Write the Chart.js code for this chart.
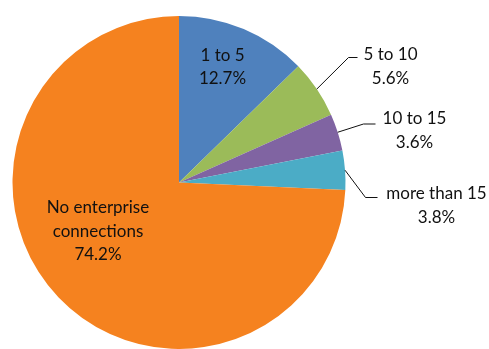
<!DOCTYPE html>
<html>
<head>
<meta charset="utf-8">
<script src="https://cdn.jsdelivr.net/npm/chart.js@4"></script>
<style>
  html, body { margin: 0; padding: 0; background: #fff; }
  #wrap { width: 489px; height: 349px; }
</style>
</head>
<body>
<div id="wrap"><canvas id="pie-chart" width="489" height="349"></canvas></div>
<script>
// Aandeel per aantal enterprise-verbindingen
const categories = ['1 to 5', '5 to 10', '10 to 15', 'more than 15', 'No enterprise connections'];
const labelLines = [['1 to 5'], ['5 to 10'], ['10 to 15'], ['more than 15'], ['No enterprise', 'connections']];
const shares = [12.7, 5.6, 3.6, 3.8, 74.2];
const sliceColors = ['#4F81BD', '#9BBB59', '#8064A2', '#4BACC6', '#F5821F'];

// Plaatsing van de labels, relatief t.o.v. het middelpunt van de taart
// inside: label in de punt; anders met een verbindingslijn naar de rand
const labelPlacement = [
    { inside: true, dx: 43.5, dy: -115.5 },
    { elbowDx: 169.5, elbowDy: -125, endDx: 178.5, textDx: 211.5, textDy: -127.5 },
    { elbowDx: 184.5, elbowDy: -58.5, endDx: 196.5, textDx: 235.5, textDy: -63.5 },
    { elbowDx: 186.5, elbowDy: 15, endDx: 198.5, textDx: 257.5, textDy: 11.5 },
    { inside: true, dx: -81, dy: 49 }
];

const FONT = '17px Lato, "Open Sans", sans-serif';
const LINE_HEIGHT = 23.5;

// Tekent de labels met percentage en eventueel een verbindingslijn
const pieLabels = {
    id: 'pieLabels',
    afterDatasetsDraw(chart) {
        const ctx = chart.ctx;
        const arcs = chart.getDatasetMeta(0).data;
        ctx.save();
        ctx.font = FONT;
        ctx.fillStyle = '#111';
        ctx.strokeStyle = '#111';
        ctx.lineWidth = 1;
        ctx.textAlign = 'center';
        ctx.textBaseline = 'middle';

        arcs.forEach((arc, i) => {
            const p = labelPlacement[i];
            const cx = arc.x, cy = arc.y;
            const lines = labelLines[i].concat([shares[i].toFixed(1) + '%']);

            if (p.inside) {
                const top = cy + p.dy - (lines.length - 1) * LINE_HEIGHT / 2;
                lines.forEach((t, k) => ctx.fillText(t, cx + p.dx, top + k * LINE_HEIGHT));
                return;
            }

            // Startpunt op de rand, midden van de punt
            const mid = (arc.startAngle + arc.endAngle) / 2;
            const sx = cx + Math.cos(mid) * arc.outerRadius;
            const sy = cy + Math.sin(mid) * arc.outerRadius;
            ctx.beginPath();
            ctx.moveTo(sx, sy);
            ctx.lineTo(cx + p.elbowDx, cy + p.elbowDy);
            ctx.lineTo(cx + p.endDx, cy + p.elbowDy);
            ctx.stroke();

            lines.forEach((t, k) => ctx.fillText(t, cx + p.textDx, cy + p.textDy + k * LINE_HEIGHT));
        });
        ctx.restore();
    }
};

const pieChart = new Chart(document.getElementById('pie-chart').getContext('2d'), {
    type: 'pie',
    data: {
        labels: categories,
        datasets: [{
            data: shares,
            backgroundColor: sliceColors,
            borderWidth: 0
        }]
    },
    options: {
        responsive: false,
        animation: false,
        layout: {
            padding: { left: 12, right: 143, top: 16, bottom: 0 }
        },
        plugins: {
            legend: { display: false },
            tooltip: { enabled: false }
        }
    },
    plugins: [pieLabels]
});
</script>
</body>
</html>
